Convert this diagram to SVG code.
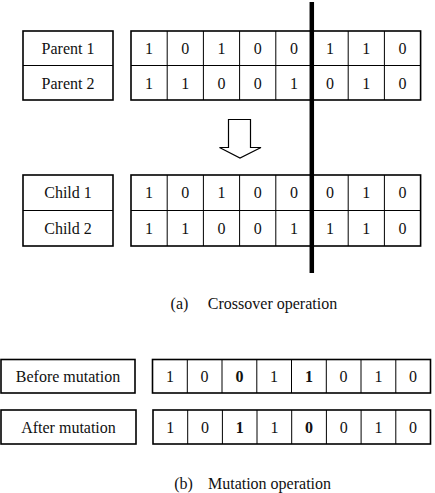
<svg xmlns="http://www.w3.org/2000/svg" width="435" height="493" viewBox="0 0 435 493">
<style>
.box{fill:#fff;stroke:#000;stroke-width:1.6}
.div{stroke:#000;stroke-width:1}
text{font-family:"Liberation Serif","Times New Roman",serif;font-size:16px;fill:#111;text-anchor:middle}
.b{font-weight:bold}
</style>
<rect width="435" height="493" fill="#fff"/>
<g id="parents-label">
<rect class="box" x="23" y="31" width="90" height="69"/>
<line class="div" x1="23" y1="65.5" x2="113" y2="65.5"/>
<text x="68" y="54">Parent 1</text>
<text x="68" y="88.5">Parent 2</text>
</g>
<g id="parents-genes">
<rect class="box" x="131" y="31" width="289.6" height="69"/>
<line class="div" x1="131" y1="65.5" x2="420.6" y2="65.5"/>
<path class="div" d="M167.2 31V100M203.4 31V100M239.6 31V100M275.8 31V100M312 31V100M348.2 31V100M384.4 31V100"/>
<text x="149.1" y="54">1</text><text x="185.3" y="54">0</text><text x="221.5" y="54">1</text><text x="257.7" y="54">0</text><text x="293.9" y="54">0</text><text x="330.1" y="54">1</text><text x="366.3" y="54">1</text><text x="402.5" y="54">0</text>
<text x="149.1" y="88.5">1</text><text x="185.3" y="88.5">1</text><text x="221.5" y="88.5">0</text><text x="257.7" y="88.5">0</text><text x="293.9" y="88.5">1</text><text x="330.1" y="88.5">0</text><text x="366.3" y="88.5">1</text><text x="402.5" y="88.5">0</text>
</g>
<g id="children-label">
<rect class="box" x="23" y="175" width="90" height="71"/>
<line class="div" x1="23" y1="210.5" x2="113" y2="210.5"/>
<text x="68" y="198">Child 1</text>
<text x="68" y="233.5">Child 2</text>
</g>
<g id="children-genes">
<rect class="box" x="131" y="175" width="289.6" height="71"/>
<line class="div" x1="131" y1="210.5" x2="420.6" y2="210.5"/>
<path class="div" d="M167.2 175V246M203.4 175V246M239.6 175V246M275.8 175V246M312 175V246M348.2 175V246M384.4 175V246"/>
<text x="149.1" y="198">1</text><text x="185.3" y="198">0</text><text x="221.5" y="198">1</text><text x="257.7" y="198">0</text><text x="293.9" y="198">0</text><text x="330.1" y="198">0</text><text x="366.3" y="198">1</text><text x="402.5" y="198">0</text>
<text x="149.1" y="233.5">1</text><text x="185.3" y="233.5">1</text><text x="221.5" y="233.5">0</text><text x="257.7" y="233.5">0</text><text x="293.9" y="233.5">1</text><text x="330.1" y="233.5">1</text><text x="366.3" y="233.5">1</text><text x="402.5" y="233.5">0</text>
</g>
<g id="connectors">
<path d="M228.5 119.5H250.5V147.5H261L240 158L219.5 147.5H228.5Z" fill="#fff" stroke="#000" stroke-width="1.2" stroke-linejoin="miter"/>
<line x1="311.8" y1="2" x2="311.8" y2="273" stroke="#000" stroke-width="4.5"/>
</g>
<g id="caption-a">
<text x="179.5" y="309">(a)</text>
<text x="272.5" y="309">Crossover operation</text>
</g>
<g id="before-label">
<rect class="box" x="1" y="359.5" width="134" height="33.5"/>
<text x="68" y="382">Before mutation</text>
</g>
<g id="before-genes">
<rect class="box" x="152.5" y="359.5" width="278" height="33.5"/>
<path class="div" d="M187.3 359.5V393M222 359.5V393M256.8 359.5V393M291.5 359.5V393M326.3 359.5V393M361 359.5V393M395.8 359.5V393"/>
<text x="169.9" y="382">1</text><text x="204.6" y="382">0</text><text class="b" x="239.4" y="382">0</text><text x="274.1" y="382">1</text><text class="b" x="308.9" y="382">1</text><text x="343.6" y="382">0</text><text x="378.4" y="382">1</text><text x="413.1" y="382">0</text>
</g>
<g id="after-label">
<rect class="box" x="1" y="410" width="135" height="34"/>
<text x="68.5" y="433">After mutation</text>
</g>
<g id="after-genes">
<rect class="box" x="153" y="410" width="277.5" height="34"/>
<path class="div" d="M187.7 410V444M222.4 410V444M257 410V444M291.7 410V444M326.4 410V444M361.1 410V444M395.8 410V444"/>
<text x="170.3" y="433">1</text><text x="205" y="433">0</text><text class="b" x="239.7" y="433">1</text><text x="274.4" y="433">1</text><text class="b" x="309" y="433">0</text><text x="343.7" y="433">0</text><text x="378.4" y="433">1</text><text x="413.1" y="433">0</text>
</g>
<g id="caption-b">
<text x="183.5" y="489">(b)</text>
<text x="269.5" y="489">Mutation operation</text>
</g>
</svg>
